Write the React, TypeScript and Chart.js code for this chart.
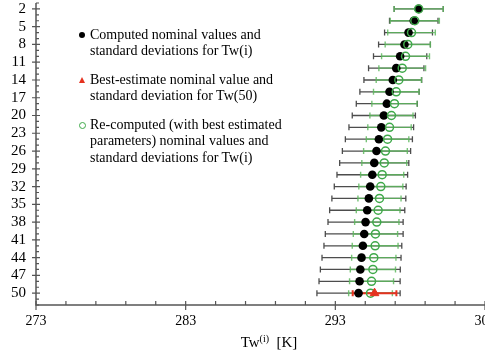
import React, { useEffect, useRef } from "react";
import { Chart, registerables } from "chart.js";

Chart.register(...registerables);

// ---- data ----
const rowIndex = [2, 4, 6, 8, 10, 12, 14, 16, 18, 20, 22, 24, 26, 28, 30, 32, 34, 36, 38, 40, 42, 44, 46, 48, 50];
const computedMean = [298.57, 298.24, 297.89, 297.62, 297.33, 297.07, 296.84, 296.62, 296.44, 296.24, 296.07, 295.91, 295.75, 295.6, 295.47, 295.33, 295.24, 295.13, 295.02, 294.93, 294.84, 294.75, 294.67, 294.62, 294.55];
const computedSd = [1.64, 1.62, 1.6, 1.73, 1.78, 1.85, 1.93, 1.98, 2.04, 2.11, 2.16, 2.24, 2.28, 2.31, 2.36, 2.4, 2.47, 2.51, 2.51, 2.6, 2.6, 2.64, 2.67, 2.71, 2.78];
const recomputedMean = [298.57, 298.31, 298.09, 297.84, 297.69, 297.47, 297.24, 297.07, 296.95, 296.75, 296.62, 296.49, 296.35, 296.27, 296.13, 296.04, 295.95, 295.86, 295.77, 295.68, 295.66, 295.57, 295.51, 295.42, 295.35];
const recomputedSd = [1.64, 1.64, 1.59, 1.51, 1.6, 1.56, 1.51, 1.52, 1.51, 1.44, 1.45, 1.42, 1.46, 1.5, 1.44, 1.47, 1.44, 1.46, 1.48, 1.48, 1.53, 1.48, 1.51, 1.47, 1.46];
const bestIndex = [50];
const bestMean = [295.62];
const bestSd = [1.46];
const xTickValues = [273, 283, 293, 303];
const yTickValues = [2, 5, 8, 11, 14, 17, 20, 23, 26, 29, 32, 35, 38, 41, 44, 47, 50];

const FONT = "'Liberation Serif', 'Times New Roman', serif";
const GREEN = "#3fa94a";
const GREEN_BAR = "rgba(95,185,95,0.85)";
const BLACK_BAR = "#4d4d4d";
const RED = "#e5321f";
const AXIS = "#555555";

const errorBarPlugin = {
  id: "errorBars",
  beforeDatasetsDraw(chart: any) {
    const { ctx, scales } = chart;
    const x = scales.x;
    const y = scales.y;
    ctx.save();
    const drawBar = (idx: number, mean: number, sd: number, color: string, width: number, cap: number) => {
      const py = y.getPixelForValue(idx);
      const x1 = x.getPixelForValue(mean - sd);
      const x2 = x.getPixelForValue(mean + sd);
      ctx.strokeStyle = color;
      ctx.lineWidth = width;
      ctx.beginPath();
      ctx.moveTo(x1, py);
      ctx.lineTo(x2, py);
      ctx.moveTo(x1, py - cap);
      ctx.lineTo(x1, py + cap);
      ctx.moveTo(x2, py - cap);
      ctx.lineTo(x2, py + cap);
      ctx.stroke();
    };
    rowIndex.forEach((r, i) => drawBar(r, computedMean[i], computedSd[i], BLACK_BAR, 1.3, 3));
    rowIndex.forEach((r, i) => drawBar(r, recomputedMean[i], recomputedSd[i], GREEN_BAR, 1.4, 3));
    bestIndex.forEach((r, i) => drawBar(r, bestMean[i], bestSd[i], RED, 2, 3));
    ctx.restore();
  },
};

const axisPlugin = {
  id: "axisTicks",
  afterDraw(chart: any) {
    const { ctx, chartArea, scales } = chart;
    const { left, right, top, bottom } = chartArea;
    const x = scales.x;
    const y = scales.y;
    ctx.save();
    ctx.strokeStyle = AXIS;
    ctx.lineWidth = 1.5;
    ctx.beginPath();
    ctx.moveTo(left, top);
    ctx.lineTo(left, bottom);
    ctx.lineTo(right + 2, bottom);
    ctx.stroke();
    ctx.lineWidth = 1.2;
    ctx.beginPath();
    for (let v = 1; v <= 52; v++) {
      const py = y.getPixelForValue(v);
      ctx.moveTo(left, py);
      ctx.lineTo(left + 3, py);
    }
    yTickValues.forEach((v) => {
      const py = y.getPixelForValue(v);
      ctx.moveTo(left - 4, py);
      ctx.lineTo(left + 4, py);
    });
    for (let v = 275; v < 303; v += 2) {
      if (xTickValues.includes(v)) continue;
      const px = x.getPixelForValue(v);
      ctx.moveTo(px, bottom);
      ctx.lineTo(px, bottom - 4);
    }
    xTickValues.forEach((v) => {
      const px = x.getPixelForValue(v);
      ctx.moveTo(px, bottom - 4);
      ctx.lineTo(px, bottom + 5);
    });
    ctx.stroke();
    ctx.restore();
  },
};

export default function App() {
  const canvasRef = useRef<HTMLCanvasElement | null>(null);

  useEffect(() => {
    if (!canvasRef.current) return;
    const chart = new Chart(canvasRef.current, {
      type: "scatter",
      data: {
        datasets: [
          {
            label: "Best-estimate nominal value and standard deviation for Tw(50)",
            data: bestIndex.map((r, i) => ({ x: bestMean[i], y: r })),
            pointStyle: "triangle",
            pointRadius: 5,
            backgroundColor: RED,
            borderColor: RED,
            borderWidth: 1,
          },
          {
            label: "Re-computed nominal values and standard deviations for Tw(i)",
            data: rowIndex.map((r, i) => ({ x: recomputedMean[i], y: r })),
            pointStyle: "circle",
            pointRadius: 4,
            backgroundColor: "rgba(0,0,0,0)",
            borderColor: GREEN,
            borderWidth: 1.5,
          },
          {
            label: "Computed nominal values and standard deviations for Tw(i)",
            data: rowIndex.map((r, i) => ({ x: computedMean[i], y: r })),
            pointStyle: "circle",
            pointRadius: 4.3,
            backgroundColor: "#000000",
            borderColor: "#000000",
            borderWidth: 0,
          },
        ],
      },
      options: {
        responsive: false,
        animation: false,
        events: [],
        layout: { autoPadding: false, padding: { top: 3, left: 0, right: 0, bottom: 0 } },
        plugins: { legend: { display: false }, tooltip: { enabled: false } },
        scales: {
          x: {
            type: "linear",
            min: 273,
            max: 303,
            afterBuildTicks: (s: any) => {
              s.ticks = xTickValues.map((v) => ({ value: v }));
            },
            afterFit: (s: any) => {
              s.height = 55;
              s.paddingLeft = 0;
              s.paddingRight = 0;
            },
            grid: { display: false, drawTicks: false },
            border: { display: false },
            ticks: {
              color: "#000",
              font: { family: FONT, size: 14 },
              padding: 8,
              maxRotation: 0,
              autoSkip: false,
            },
          },
          y: {
            type: "linear",
            reverse: true,
            min: 1,
            max: 52,
            afterBuildTicks: (s: any) => {
              s.ticks = yTickValues.map((v) => ({ value: v }));
            },
            afterFit: (s: any) => {
              s.width = 36;
              s.paddingTop = 0;
              s.paddingBottom = 0;
            },
            grid: { display: false, drawTicks: false },
            border: { display: false },
            ticks: {
              color: "#000",
              font: { family: FONT, size: 15 },
              padding: 10,
              autoSkip: false,
            },
          },
        },
      },
      plugins: [errorBarPlugin, axisPlugin],
    });
    return () => chart.destroy();
  }, []);

  const textStyle: React.CSSProperties = {
    position: "absolute",
    left: 90,
    fontFamily: FONT,
    fontSize: 14,
    lineHeight: "16.7px",
    color: "#000",
    whiteSpace: "nowrap",
  };

  return (
    <div style={{ position: "fixed", left: 0, top: 0, width: 485, height: 360, overflow: "hidden", background: "#fff" }}>
      <canvas ref={canvasRef} width={485} height={360} style={{ display: "block", position: "absolute", left: 0, top: 0 }} />
      <span style={{ position: "absolute", left: 79, top: 32, width: 6, height: 6, borderRadius: "50%", background: "#000" }} />
      <div style={{ ...textStyle, top: 26.6 }}>
        Computed nominal values and
        <br />
        standard deviations for Tw(i)
      </div>
      <span
        style={{
          position: "absolute",
          left: 79,
          top: 77,
          width: 0,
          height: 0,
          borderLeft: "3.5px solid transparent",
          borderRight: "3.5px solid transparent",
          borderBottom: `6px solid ${RED}`,
        }}
      />
      <div style={{ ...textStyle, top: 71.6 }}>
        Best-estimate nominal value and
        <br />
        standard deviation for Tw(50)
      </div>
      <span
        style={{
          position: "absolute",
          left: 79,
          top: 122,
          width: 5,
          height: 5,
          borderRadius: "50%",
          border: `1px solid ${GREEN}`,
          boxSizing: "content-box",
        }}
      />
      <div style={{ ...textStyle, top: 116.6 }}>
        Re-computed (with best estimated
        <br />
        parameters) nominal values and
        <br />
        standard deviations for Tw(i)
      </div>
      <div
        style={{
          position: "absolute",
          left: 169,
          width: 200,
          top: 333,
          textAlign: "center",
          fontFamily: FONT,
          fontSize: 15,
          lineHeight: "18px",
          color: "#000",
          whiteSpace: "nowrap",
        }}
      >
        Tw<sup style={{ fontSize: 10, verticalAlign: "5px", lineHeight: 0 }}>(i)</sup>&nbsp; [K]
      </div>
    </div>
  );
}
